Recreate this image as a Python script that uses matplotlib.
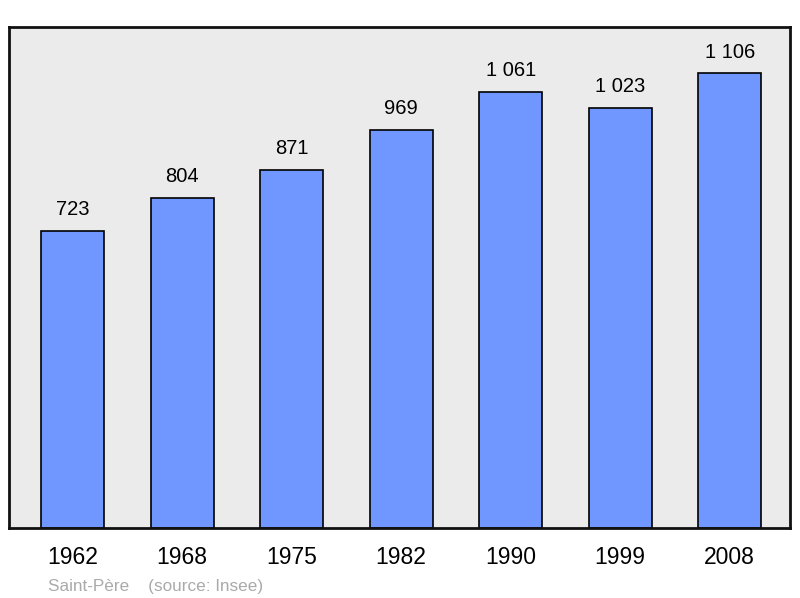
import matplotlib.pyplot as plt

# population data
years = ['1962', '1968', '1975', '1982', '1990', '1999', '2008']
population = [723, 804, 871, 969, 1061, 1023, 1106]
labels = ['723', '804', '871', '969', '1 061', '1 023', '1 106']

plt.rcParams['font.family'] = ['Liberation Sans', 'DejaVu Sans']

fig = plt.figure(figsize=(8, 5.98), dpi=100)
ax = fig.add_axes([9/800, 70/598, 781/800, 501/598])
ax.set_facecolor('#ebebeb')

x = range(len(years))
bars = ax.bar(x, population, width=0.575, color='#7096ff', edgecolor='black', linewidth=1.2)

for xi, v, lab in zip(x, population, labels):
    ax.annotate(lab, (xi, v), xytext=(0, 8.5), textcoords='offset points',
                ha='center', va='bottom', fontsize=14.5)

ax.set_xlim(-0.58, 6.55)
ax.set_ylim(0, 1219)
ax.set_xticks(list(x))
ax.set_xticklabels(years, fontsize=16.5)
ax.tick_params(axis='x', length=0, pad=13)
ax.set_yticks([])
for s in ax.spines.values():
    s.set_linewidth(2)
    s.set_color('#111111')

fig.text(48/800, 7/598, 'Saint-Père    (source: Insee)', color='#aaaaaa', fontsize=12.3)

plt.savefig('out.png', dpi=100)
